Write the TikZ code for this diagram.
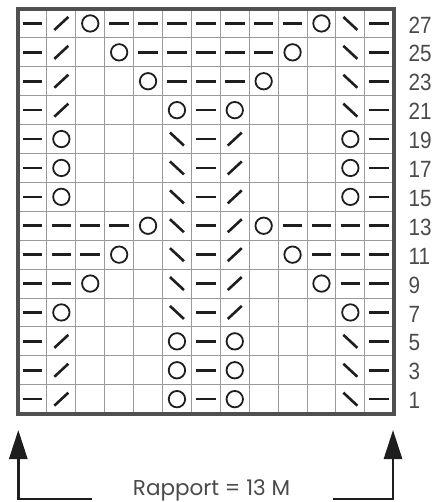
\documentclass[tikz,border=0pt]{standalone}
\usepackage{fontspec}
\setmainfont{Liberation Sans}
\newfontfamily\geofont{Poppins}
\usetikzlibrary{arrows.meta}
\definecolor{bordergray}{HTML}{505050}
\definecolor{gridgray}{HTML}{9A9A9A}
\definecolor{symcol}{HTML}{1E1E1E}
\definecolor{textgray}{HTML}{4A4A4A}
\begin{document}
\begin{tikzpicture}[x=1pt,y=-1pt,
  symline/.style={draw=symcol,line width=2.6pt},
  gridline/.style={draw=gridgray,line width=1pt},
  border/.style={draw=bordergray,line width=4.2pt},
  arrowline/.style={draw=symcol,line width=2.8pt,-{Triangle[width=18pt,length=29pt]}},
  rownum/.style={anchor=west,inner sep=0pt,text=textgray,font=\fontsize{23.5}{23.5}\selectfont},
  pics/sym-d/.style={code={\draw[symline] (-9.8,0)--(9.8,0);}},
  pics/sym-l/.style={code={\draw[symline] (-7,6.5)--(7,-6.5);}},
  pics/sym-r/.style={code={\draw[symline] (-7,-6.5)--(7,6.5);}},
  pics/sym-o/.style={code={\draw[draw=symcol,line width=1.8pt] (0,0) circle (8.2);}},
  pics/sym-x/.style={code={}},
]
\useasboundingbox (0,0) rectangle (442,502);
\def\cs{28.9}
% grid
\foreach \k in {1,...,12} \draw[gridline] ({18+\k*\cs},9) -- ({18+\k*\cs},413.6);
\foreach \k in {1,...,13} \draw[gridline] (18,{9+\k*\cs}) -- (393.7,{9+\k*\cs});
% symbols
\foreach \rowdata [count=\i from 0] in {
  {d,l,o,d,d,d,d,d,d,d,o,r,d},
  {d,l,x,o,d,d,d,d,d,o,x,r,d},
  {d,l,x,x,o,d,d,d,o,x,x,r,d},
  {d,l,x,x,x,o,d,o,x,x,x,r,d},
  {d,o,x,x,x,r,d,l,x,x,x,o,d},
  {d,o,x,x,x,r,d,l,x,x,x,o,d},
  {d,o,x,x,x,r,d,l,x,x,x,o,d},
  {d,d,d,d,o,r,d,l,o,d,d,d,d},
  {d,d,d,o,x,r,d,l,x,o,d,d,d},
  {d,d,o,x,x,r,d,l,x,x,o,d,d},
  {d,o,x,x,x,r,d,l,x,x,x,o,d},
  {d,l,x,x,x,o,d,o,x,x,x,r,d},
  {d,l,x,x,x,o,d,o,x,x,x,r,d},
  {d,l,x,x,x,o,d,o,x,x,x,r,d}}{
  \foreach \sy [count=\j from 0] in \rowdata {
    \edef\tmp{\noexpand\pic at ({18+(\j+0.5)*\cs},{9+(\i+0.5)*\cs}) {sym-\sy};}\tmp
  }
  \pgfmathtruncatemacro{\rn}{27-2*\i}
  \node[rownum] (num\rn) at (408.5,{10.5+(\i+0.5)*\cs}) {\scalebox{0.88}[1]{\rn}};
}
% border
\draw[border] (18,9) rectangle (393.7,413.6);
% arrows
\coordinate (la-tip) at (18.3,430);
\coordinate (la-corner) at (18.3,499);
\coordinate (la-end) at (92,499);
\coordinate (ra-tip) at (393,430);
\coordinate (ra-corner) at (393,499);
\coordinate (ra-end) at (333,499);
\draw[arrowline] (la-end) -- (la-corner) -- (la-tip);
\draw[arrowline] (ra-end) -- (ra-corner) -- (ra-tip);
\node[anchor=base,inner sep=0pt,text=textgray,font=\geofont\fontsize{21.5}{21.5}\selectfont] (rapport) at (211.5,495.8) {Rapport = 13 M};
\end{tikzpicture}
\end{document}
